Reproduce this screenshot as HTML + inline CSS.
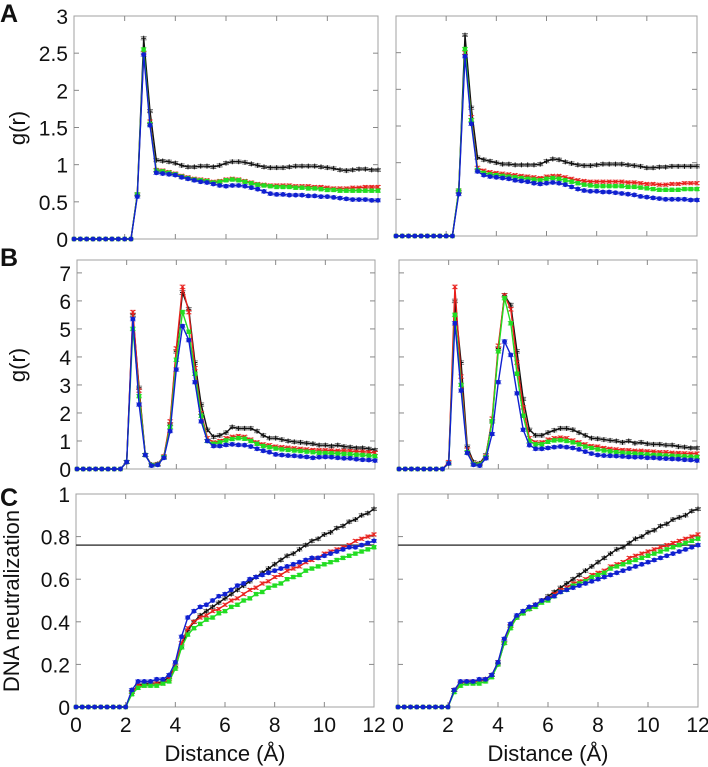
<!DOCTYPE html>
<html><head><meta charset="utf-8">
<style>
html,body{margin:0;padding:0;background:#fff;}
svg{display:block;}
text{font-family:"Liberation Sans",sans-serif;fill:#111;}
</style></head>
<body>
<svg id="fig" width="708" height="767" viewBox="0 0 708 767">
<text x="0" y="22" font-size="25" font-weight="bold">A</text>
<text x="0" y="266" font-size="25" font-weight="bold">B</text>
<text x="0" y="506" font-size="25" font-weight="bold">C</text>
<text transform="translate(25,128) rotate(-90)" text-anchor="middle" font-size="22">g(r)</text>
<text transform="translate(25,365) rotate(-90)" text-anchor="middle" font-size="22">g(r)</text>
<text transform="translate(19,601) rotate(-90)" text-anchor="middle" font-size="22">DNA neutralization</text>
<text x="225" y="761" text-anchor="middle" font-size="22">Distance (Å)</text>
<text x="548" y="761" text-anchor="middle" font-size="22">Distance (Å)</text>
</svg>
<script>
const xGrid = [0,0.25,0.5,0.75,1,1.25,1.5,1.75,2,2.25,2.5,2.75,3,3.25,3.5,3.75,4,4.25,4.5,4.75,5,5.25,5.5,5.75,6,6.25,6.5,6.75,7,7.25,7.5,7.75,8,8.25,8.5,8.75,9,9.25,9.5,9.75,10,10.25,10.5,10.75,11,11.25,11.5,11.75,12];
const xTicks = [0,2,4,6,8,10,12];
const yTicksA = [0,0.5,1,1.5,2,2.5,3];
const yTickLabelsA = ["0","0.5","1","1.5","2","2.5","3"];
const yTicksB = [0,1,2,3,4,5,6,7];
const yTicksC = [0,0.2,0.4,0.6,0.8,1];
const yTickLabelsC = ["0","0.2","0.4","0.6","0.8","1"];
const neutralLine = 0.76;
const z10 = [0,0,0,0,0,0,0,0,0,0];
const z8 = [0,0,0,0,0,0,0,0];
// Panel A left
const aLeftBlack = z10.concat([0.6,2.7,1.72,1.06,1.05,1.04,1.02,0.99,0.97,0.97,0.98,0.98,0.97,0.99,1.02,1.04,1.04,1.03,1.01,0.99,0.97,0.96,0.96,0.96,0.97,0.98,0.98,0.98,0.98,0.97,0.96,0.95,0.93,0.92,0.93,0.94,0.94,0.93,0.93]);
const aLeftRed = z10.concat([0.6,2.5,1.58,0.93,0.92,0.9,0.88,0.85,0.83,0.81,0.8,0.79,0.77,0.78,0.8,0.81,0.8,0.78,0.76,0.74,0.73,0.72,0.72,0.72,0.72,0.71,0.71,0.71,0.7,0.7,0.69,0.68,0.68,0.68,0.69,0.69,0.7,0.7,0.7]);
const aLeftGreen = z10.concat([0.6,2.55,1.55,0.92,0.91,0.89,0.87,0.84,0.82,0.8,0.79,0.78,0.76,0.77,0.79,0.8,0.79,0.77,0.75,0.73,0.72,0.71,0.7,0.7,0.7,0.69,0.69,0.68,0.68,0.67,0.66,0.66,0.65,0.65,0.65,0.65,0.65,0.65,0.65]);
const aLeftBlue = z10.concat([0.57,2.48,1.53,0.89,0.88,0.87,0.86,0.83,0.81,0.79,0.77,0.76,0.74,0.72,0.71,0.72,0.72,0.71,0.69,0.67,0.64,0.61,0.6,0.6,0.59,0.59,0.59,0.58,0.58,0.57,0.57,0.56,0.55,0.54,0.53,0.53,0.53,0.52,0.52]);
// Panel A right
const aRightBlack = z10.concat([0.6,2.74,1.75,1.07,1.04,1.02,1.0,0.98,0.98,0.97,0.97,0.97,0.97,0.98,1.02,1.05,1.04,1.01,0.99,0.97,0.96,0.96,0.97,0.98,0.98,0.98,0.98,0.97,0.96,0.95,0.93,0.93,0.94,0.94,0.95,0.95,0.95,0.95,0.95]);
const aRightRed = z10.concat([0.62,2.5,1.62,0.93,0.89,0.87,0.86,0.85,0.84,0.83,0.82,0.81,0.8,0.79,0.81,0.82,0.82,0.8,0.78,0.76,0.75,0.74,0.74,0.74,0.74,0.74,0.74,0.73,0.73,0.72,0.71,0.71,0.7,0.7,0.71,0.71,0.72,0.72,0.72]);
const aRightGreen = z10.concat([0.62,2.55,1.58,0.9,0.86,0.84,0.83,0.82,0.81,0.8,0.79,0.78,0.77,0.76,0.78,0.79,0.78,0.76,0.74,0.72,0.7,0.69,0.68,0.68,0.68,0.68,0.68,0.67,0.67,0.66,0.65,0.64,0.63,0.63,0.63,0.63,0.64,0.64,0.64]);
const aRightBlue = z10.concat([0.57,2.45,1.53,0.88,0.83,0.81,0.8,0.79,0.78,0.76,0.75,0.74,0.72,0.71,0.72,0.73,0.72,0.7,0.67,0.64,0.62,0.61,0.61,0.6,0.6,0.59,0.58,0.57,0.56,0.54,0.53,0.52,0.51,0.5,0.5,0.5,0.5,0.49,0.49]);
// Panel B left
const bLeftBlack = z8.concat([0.25,5.5,2.9,0.5,0.15,0.18,0.45,1.6,4.2,6.3,5.7,3.8,2.3,1.4,1.15,1.2,1.3,1.5,1.45,1.45,1.45,1.35,1.2,1.1,1.1,1.05,1.0,0.97,0.95,0.92,0.9,0.85,0.85,0.82,0.85,0.8,0.78,0.75,0.75,0.72,0.68]);
const bLeftRed = z8.concat([0.25,5.6,2.8,0.5,0.15,0.18,0.45,1.7,4.3,6.5,5.6,3.6,2.0,1.1,0.95,1.0,1.1,1.15,1.18,1.15,1.05,0.95,0.88,0.85,0.8,0.78,0.76,0.74,0.72,0.7,0.68,0.67,0.67,0.66,0.65,0.65,0.64,0.62,0.62,0.6,0.58]);
const bLeftGreen = z8.concat([0.25,5.0,2.6,0.5,0.14,0.16,0.42,1.5,3.9,5.6,4.9,3.4,1.9,1.0,0.9,0.95,1.02,1.07,1.1,1.08,1.0,0.9,0.82,0.78,0.73,0.7,0.68,0.66,0.64,0.62,0.6,0.58,0.57,0.56,0.55,0.54,0.53,0.51,0.5,0.48,0.46]);
const bLeftBlue = z8.concat([0.25,5.35,2.3,0.5,0.12,0.15,0.4,1.35,3.55,5.1,4.6,3.1,1.7,1.0,0.82,0.82,0.86,0.88,0.86,0.85,0.8,0.72,0.65,0.6,0.52,0.5,0.48,0.47,0.45,0.43,0.4,0.42,0.43,0.42,0.4,0.38,0.38,0.35,0.33,0.32,0.3]);
// Panel B right
const bRightBlack = z8.concat([0.2,6.0,3.8,0.8,0.25,0.2,0.5,1.7,4.3,6.2,5.85,4.2,2.5,1.4,1.2,1.2,1.3,1.38,1.45,1.45,1.4,1.3,1.2,1.1,1.08,1.05,1.02,1.0,0.95,1.0,0.92,0.95,0.9,0.88,0.88,0.85,0.85,0.8,0.78,0.75,0.75]);
const bRightRed = z8.concat([0.25,6.5,3.3,0.7,0.2,0.18,0.45,1.8,4.4,6.2,5.7,3.8,2.2,1.1,0.95,0.95,1.05,1.1,1.12,1.1,1.02,0.95,0.88,0.82,0.8,0.75,0.72,0.7,0.68,0.67,0.65,0.65,0.63,0.62,0.6,0.6,0.58,0.57,0.56,0.55,0.55]);
const bRightGreen = z8.concat([0.2,5.5,3.0,0.6,0.18,0.16,0.42,1.7,4.2,6.1,5.2,3.4,1.9,1.0,0.88,0.88,0.97,1.02,1.03,1.0,0.95,0.88,0.8,0.75,0.7,0.66,0.63,0.6,0.58,0.56,0.55,0.53,0.52,0.5,0.5,0.48,0.47,0.46,0.45,0.44,0.43]);
const bRightBlue = z8.concat([0.2,5.2,2.8,0.57,0.15,0.12,0.38,1.25,3.1,4.55,4.07,2.7,1.4,0.85,0.72,0.72,0.75,0.78,0.8,0.78,0.75,0.7,0.62,0.55,0.5,0.48,0.47,0.46,0.45,0.43,0.42,0.42,0.4,0.4,0.38,0.37,0.36,0.35,0.33,0.32,0.3]);
// Panel C left
const cLeftBlack = z8.concat([0.0,0.07,0.1,0.11,0.11,0.11,0.12,0.14,0.19,0.28,0.36,0.4,0.43,0.45,0.47,0.49,0.51,0.53,0.55,0.57,0.59,0.61,0.63,0.65,0.67,0.69,0.71,0.72,0.74,0.76,0.78,0.79,0.81,0.82,0.84,0.85,0.87,0.88,0.9,0.91,0.93]);
const cLeftRed = z8.concat([0.0,0.07,0.1,0.1,0.11,0.11,0.11,0.13,0.19,0.3,0.37,0.4,0.42,0.43,0.45,0.46,0.48,0.5,0.51,0.53,0.55,0.56,0.58,0.59,0.61,0.62,0.64,0.65,0.66,0.68,0.69,0.7,0.72,0.73,0.74,0.75,0.76,0.78,0.79,0.8,0.81]);
const cLeftGreen = z8.concat([0.0,0.06,0.09,0.1,0.1,0.1,0.11,0.12,0.18,0.28,0.34,0.37,0.39,0.41,0.42,0.44,0.45,0.47,0.48,0.5,0.51,0.53,0.54,0.56,0.57,0.58,0.6,0.61,0.62,0.64,0.65,0.66,0.67,0.68,0.69,0.7,0.71,0.72,0.73,0.74,0.75]);
const cLeftBlue = z8.concat([0.0,0.08,0.12,0.12,0.12,0.13,0.13,0.15,0.21,0.33,0.42,0.45,0.47,0.48,0.5,0.52,0.53,0.55,0.57,0.58,0.6,0.61,0.62,0.63,0.64,0.65,0.66,0.67,0.68,0.69,0.7,0.7,0.71,0.72,0.73,0.74,0.75,0.75,0.76,0.77,0.78]);
// Panel C right
const cRightBlack = z8.concat([0.0,0.08,0.11,0.12,0.12,0.12,0.13,0.15,0.2,0.3,0.38,0.42,0.44,0.46,0.48,0.5,0.52,0.54,0.56,0.58,0.6,0.62,0.64,0.66,0.68,0.7,0.72,0.74,0.75,0.77,0.79,0.8,0.82,0.83,0.85,0.86,0.88,0.89,0.9,0.92,0.93]);
const cRightRed = z8.concat([0.0,0.08,0.11,0.12,0.12,0.12,0.13,0.15,0.21,0.31,0.38,0.42,0.44,0.46,0.48,0.5,0.51,0.53,0.55,0.56,0.58,0.59,0.6,0.62,0.63,0.64,0.66,0.67,0.68,0.7,0.71,0.72,0.73,0.74,0.75,0.76,0.77,0.78,0.79,0.8,0.81]);
const cRightGreen = z8.concat([0.0,0.07,0.1,0.11,0.11,0.11,0.12,0.14,0.2,0.3,0.37,0.42,0.44,0.46,0.47,0.49,0.5,0.52,0.54,0.55,0.57,0.58,0.59,0.61,0.62,0.63,0.65,0.66,0.67,0.68,0.69,0.7,0.71,0.72,0.73,0.74,0.75,0.76,0.77,0.78,0.79]);
const cRightBlue = z8.concat([0.0,0.08,0.12,0.12,0.12,0.13,0.13,0.15,0.21,0.32,0.39,0.43,0.45,0.47,0.48,0.5,0.51,0.52,0.54,0.55,0.56,0.57,0.58,0.59,0.6,0.61,0.62,0.63,0.64,0.65,0.66,0.67,0.68,0.69,0.7,0.71,0.72,0.73,0.74,0.75,0.76]);

const NS = "http://www.w3.org/2000/svg";
const svg = document.getElementById('fig');
function mk(tag, attrs, parent) {
  const e = document.createElementNS(NS, tag);
  for (const k in attrs) e.setAttribute(k, attrs[k]);
  (parent || svg).appendChild(e);
  return e;
}
const colors = {black:"#111111", red:"#e8201c", green:"#22dd22", blue:"#1020d0"};

function panel(name, box, yMax, yTicks, yLabels, xLabels, series, hline) {
  const g = mk('g', {});
  
  
  const xs = v => box.x0 + (v / 12) * (box.x1 - box.x0);
  const ys = v => box.y1 - (v / yMax) * (box.y1 - box.y0);
  const frame = mk('rect', {x: box.x0, y: box.y0, width: box.x1 - box.x0, height: box.y1 - box.y0, fill: "none", stroke: "#a0a0a0", "stroke-width": 1}, g);
  
  
  xTicks.forEach((t, i) => {
    const x = xs(t);
    if (t > 0 && t < 12) {
      mk('line', {x1: x, x2: x, y1: box.y0, y2: box.y0 + 5, stroke: "#888"}, g);
      mk('line', {x1: x, x2: x, y1: box.y1, y2: box.y1 - 5, stroke: "#888"}, g);
    }
    if (xLabels) {
      const tl = mk('text', {x: x, y: box.y1 + 25, "text-anchor": "middle", "font-size": 21}, g);
      
      
      tl.textContent = String(t);
    }
  });
  yTicks.forEach((t, i) => {
    const y = ys(t);
    if (t > 0 && t < yMax) {
      mk('line', {x1: box.x0, x2: box.x0 + 5, y1: y, y2: y, stroke: "#888"}, g);
      mk('line', {x1: box.x1, x2: box.x1 - 5, y1: y, y2: y, stroke: "#888"}, g);
    }
    if (yLabels) {
      const tl = mk('text', {x: box.x0 - 6, y: y + 8, "text-anchor": "end", "font-size": 21}, g);
      
      
      tl.textContent = yLabels[i];
    }
  });
  if (hline !== undefined) {
    const hl = mk('line', {x1: box.x0, x2: box.x1, y1: ys(hline), y2: ys(hline), stroke: "#444", "stroke-width": 1.5}, g);
    
    
  }
  series.forEach(s => {
    const c = colors[s.color];
    const sg = mk('g', {}, g);
    
    
    const pts = s.data.map((v, i) => xs(xGrid[i]).toFixed(1) + ',' + ys(v).toFixed(1)).join(' ');
    const pl = mk('polyline', {points: pts, fill: "none", stroke: c, "stroke-width": 1.4, "stroke-linejoin": "round"}, sg);
    
    
    s.data.forEach((v, i) => {
      const x = xs(xGrid[i]), y = ys(v);
      if (v > 0.05) {
        const e = 1.5 + v * s.err;
        mk('path', {d: `M${x},${y - e}V${y + e}M${x - 3},${y - e}h6M${x - 3},${y + e}h6`, stroke: c, "stroke-width": 0.8, opacity: 0.7, fill: "none"}, sg);
      }
      let m;
      if (s.color === 'black') m = mk('path', {d: `M${x - 2.5},${y}h5M${x},${y - 2.5}v5`, stroke: c, "stroke-width": 1}, sg);
      else if (s.color === 'red') m = mk('path', {d: `M${x - 2},${y - 2}l4,4M${x + 2},${y - 2}l-4,4`, stroke: c, "stroke-width": 1}, sg);
      else if (s.color === 'green') m = mk('rect', {x: x - 2.2, y: y - 2.2, width: 4.4, height: 4.4, fill: c}, sg);
      else m = mk('circle', {cx: x, cy: y, r: 2.4, fill: c}, sg);
      
      
    });
  });
}
const eA = 0.03, eB = 0.05, eC = 0.02;
panel('panel-a-left', {x0: 74, x1: 378, y0: 16, y1: 239}, 3, yTicksA, yTickLabelsA, false,
  [{color:'black',data:aLeftBlack,err:eA},{color:'red',data:aLeftRed,err:eA},{color:'green',data:aLeftGreen,err:eA},{color:'blue',data:aLeftBlue,err:eA}]);
panel('panel-a-right', {x0: 396, x1: 697, y0: 16, y1: 236}, 3, yTicksA, null, false,
  [{color:'black',data:aRightBlack,err:eA},{color:'red',data:aRightRed,err:eA},{color:'green',data:aRightGreen,err:eA},{color:'blue',data:aRightBlue,err:eA}]);
panel('panel-b-left', {x0: 77, x1: 375, y0: 260, y1: 469}, 7.46, yTicksB, yTicksB.map(String), false,
  [{color:'black',data:bLeftBlack,err:eB},{color:'red',data:bLeftRed,err:eB},{color:'green',data:bLeftGreen,err:eB},{color:'blue',data:bLeftBlue,err:eB}]);
panel('panel-b-right', {x0: 399, x1: 697, y0: 260, y1: 469}, 7.46, yTicksB, null, false,
  [{color:'black',data:bRightBlack,err:eB},{color:'red',data:bRightRed,err:eB},{color:'green',data:bRightGreen,err:eB},{color:'blue',data:bRightBlue,err:eB}]);
panel('panel-c-left', {x0: 76, x1: 374, y0: 494, y1: 707}, 1, yTicksC, yTickLabelsC, true,
  [{color:'black',data:cLeftBlack,err:eC},{color:'red',data:cLeftRed,err:eC},{color:'green',data:cLeftGreen,err:eC},{color:'blue',data:cLeftBlue,err:eC}], neutralLine);
panel('panel-c-right', {x0: 398, x1: 698, y0: 494, y1: 707}, 1, yTicksC, null, true,
  [{color:'black',data:cRightBlack,err:eC},{color:'red',data:cRightRed,err:eC},{color:'green',data:cRightGreen,err:eC},{color:'blue',data:cRightBlue,err:eC}], neutralLine);
</script>
</body></html>
